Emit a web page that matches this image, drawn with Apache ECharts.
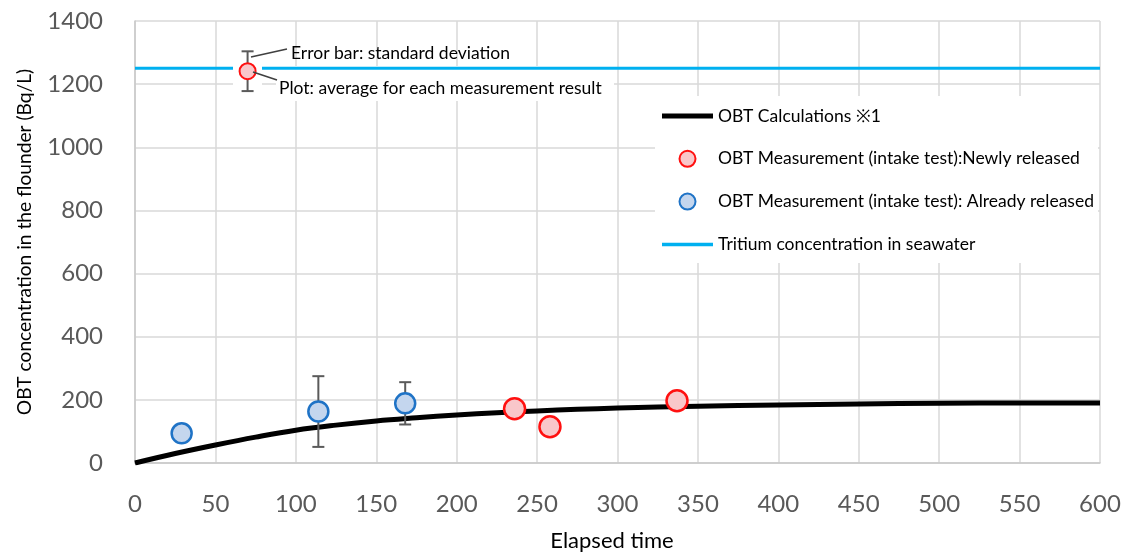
<!DOCTYPE html>
<html>
<head>
<meta charset="utf-8">
<script src="https://cdn.jsdelivr.net/npm/echarts@6/dist/echarts.min.js"></script>
<style>
html,body{margin:0;padding:0;background:#fff;}
#chart{width:1124px;height:555px;}
</style>
</head>
<body>
<div id="chart"></div>
<script>
// ---- data ----
const xTicks = [0, 50, 100, 150, 200, 250, 300, 350, 400, 450, 500, 550, 600];
const yTicks = [0, 200, 400, 600, 800, 1000, 1200, 1400];

// OBT calculation curve (elapsed time, Bq/L)
const calcX = [0, 25, 50, 75, 100, 125, 150, 175, 200, 225, 250, 275, 300, 350, 400, 450, 500, 550, 600];
const calcY = [0, 30, 57, 82, 104, 120, 133, 143, 152, 159, 165, 170, 174, 180, 184, 187, 189, 190, 190];

// OBT measurement: newly released
const newX = [236, 258, 337];
const newY = [172, 115, 197];

// OBT measurement: already released (mean, standard deviation)
const oldX = [29, 114, 168];
const oldY = [94, 163, 189];
const oldSD = [null, 112, 67];

// Tritium concentration in seawater
const seaX = [0, 600];
const seaY = [1250, 1250];

// explanatory sample marker (mean, sd)
const sampleX = [70];
const sampleY = [1241];
const sampleSD = [63];

const names = [
  'OBT Calculations \u203B1',
  'OBT Measurement (intake test):Newly released',
  'OBT Measurement (intake test): Already released',
  'Tritium concentration in seawater'
];
const xName = 'Elapsed time';
const yName = 'OBT concentration in the flounder (Bq/L)';

const zip = (a, b) => a.map((v, i) => [v, b[i]]);
const errData = (xs, ys, sds) => xs.map((x, i) => sds[i] == null ? null : [x, ys[i] - sds[i], ys[i] + sds[i]]).filter(d => d);

const FONT = 'Lato';
const RED_FILL = '#f9c7ca', RED_BORDER = '#ff1010';
const BLUE_FILL = '#c4d6ee', BLUE_BORDER = '#1f73c6';

function errorRender(params, api) {
  const x = api.value(0), lo = api.value(1), hi = api.value(2);
  const pTop = api.coord([x, hi]);
  const pBot = api.coord([x, lo]);
  const w = 6;
  const st = { stroke: '#5a5a5a', lineWidth: 2 };
  return {
    type: 'group',
    children: [
      { type: 'line', shape: { x1: pTop[0], y1: pTop[1], x2: pBot[0], y2: pBot[1] }, style: st },
      { type: 'line', shape: { x1: pTop[0] - w, y1: pTop[1], x2: pTop[0] + w, y2: pTop[1] }, style: st },
      { type: 'line', shape: { x1: pBot[0] - w, y1: pBot[1], x2: pBot[0] + w, y2: pBot[1] }, style: st }
    ]
  };
}

const chart = echarts.init(document.getElementById('chart'));
const option = {
  backgroundColor: '#ffffff',
  animation: false,
  textStyle: { fontFamily: FONT },
  grid: { left: 135, right: 24, top: 21, bottom: 92, containLabel: false },
  xAxis: {
    type: 'value', min: xTicks[0], max: xTicks[xTicks.length - 1], interval: 50,
    axisLine: { show: true, lineStyle: { color: '#c8c8c8', width: 1.5 } },
    axisTick: { show: false },
    axisLabel: { fontSize: 24, color: '#595959', margin: 29, fontFamily: FONT, formatter: v => String(v) },
    splitLine: { show: true, lineStyle: { color: '#d9d9d9', width: 1.5 } }
  },
  yAxis: {
    type: 'value', min: yTicks[0], max: yTicks[yTicks.length - 1], interval: 200,
    axisLine: { show: true, lineStyle: { color: '#c8c8c8', width: 1.5 } },
    axisTick: { show: false },
    axisLabel: { fontSize: 24, color: '#595959', margin: 32, fontFamily: FONT, formatter: v => String(v) },
    splitLine: { show: true, lineStyle: { color: '#d9d9d9', width: 1.5 } }
  },
  legend: {
    orient: 'vertical', left: 662, top: 107, padding: 0,
    itemWidth: 51, itemHeight: 16, itemGap: 24.8,
    textStyle: { fontSize: 17.5, color: '#000', fontFamily: FONT, lineHeight: 16 },
    data: [
      { name: names[0], icon: 'path://M0,0H51V5H0Z', itemStyle: { color: '#000', borderWidth: 0 } },
      { name: names[1], icon: 'circle', itemStyle: { color: RED_FILL, borderColor: RED_BORDER, borderWidth: 2 } },
      { name: names[2], icon: 'circle', itemStyle: { color: BLUE_FILL, borderColor: BLUE_BORDER, borderWidth: 2 } },
      { name: names[3], icon: 'path://M0,0H51V3.5H0Z', itemStyle: { color: '#00b0f0', borderWidth: 0 } }
    ],
    selectedMode: false
  },
  graphic: [
    // axis titles
    { type: 'text', z: 8, x: 25, y: 242, rotation: Math.PI / 2,
      style: { text: yName, fontSize: 19.2, fontFamily: FONT, fill: '#000', textAlign: 'center', textVerticalAlign: 'middle' } },
    { type: 'text', z: 8, x: 612, y: 541,
      style: { text: xName, fontSize: 22, fontFamily: FONT, fill: '#000', textAlign: 'center', textVerticalAlign: 'middle' } },
    // legend background box
    { type: 'rect', z: 1, shape: { x: 655, y: 96, width: 443, height: 167 }, style: { fill: '#fff' } },
    // white box behind the explanation text
    { type: 'rect', z: 1, shape: { x: 276, y: 66, width: 338, height: 35 }, style: { fill: '#fff' } },
    // white box behind the explanation marker
    { type: 'rect', z: 5, shape: { x: 233, y: 62, width: 29, height: 28 }, style: { fill: '#fff' } },
    // leader lines
    { type: 'line', z: 8, shape: { x1: 251, y1: 57, x2: 287, y2: 49 }, style: { stroke: '#404040', lineWidth: 1.5 } },
    { type: 'line', z: 8, shape: { x1: 253, y1: 72, x2: 277, y2: 80 }, style: { stroke: '#404040', lineWidth: 1.5 } },
    { type: 'text', z: 8, style: { x: 291, y: 53, text: 'Error bar: standard deviation', fontSize: 17.5, fontFamily: FONT, fill: '#000', textVerticalAlign: 'middle' } },
    { type: 'text', z: 8, style: { x: 279, y: 88, text: 'Plot: average for each measurement result', fontSize: 17.5, fontFamily: FONT, fill: '#000', textVerticalAlign: 'middle' } }
  ],
  series: [
    {
      name: names[3], type: 'line', data: zip(seaX, seaY), symbol: 'none', z: 2,
      lineStyle: { color: '#00b0f0', width: 3 }, itemStyle: { color: '#00b0f0' }
    },
    {
      name: names[0], type: 'line', data: zip(calcX, calcY), symbol: 'none', smooth: 0.4, z: 3,
      lineStyle: { color: '#000', width: 5 }, itemStyle: { color: '#000' }
    },
    {
      name: 'errOld', type: 'custom', renderItem: errorRender, data: errData(oldX, oldY, oldSD), z: 4,
      encode: { x: 0, y: [1, 2] }
    },
    {
      name: names[2], type: 'scatter', data: zip(oldX, oldY), symbol: 'circle', symbolSize: 20, z: 5,
      itemStyle: { color: BLUE_FILL, borderColor: BLUE_BORDER, borderWidth: 2.5, opacity: 1 }
    },
    {
      name: names[1], type: 'scatter', data: zip(newX, newY), symbol: 'circle', symbolSize: 21, z: 5,
      itemStyle: { color: RED_FILL, borderColor: RED_BORDER, borderWidth: 2.5, opacity: 1 }
    },
    {
      name: 'errSample', type: 'custom', renderItem: errorRender, data: errData(sampleX, sampleY, sampleSD), z: 6,
      encode: { x: 0, y: [1, 2] }
    },
    {
      name: 'sample', type: 'scatter', data: zip(sampleX, sampleY), symbol: 'circle', symbolSize: 16, z: 7,
      itemStyle: { color: RED_FILL, borderColor: RED_BORDER, borderWidth: 2, opacity: 1 }
    }
  ]
};
chart.setOption(option);
</script>
</body>
</html>
